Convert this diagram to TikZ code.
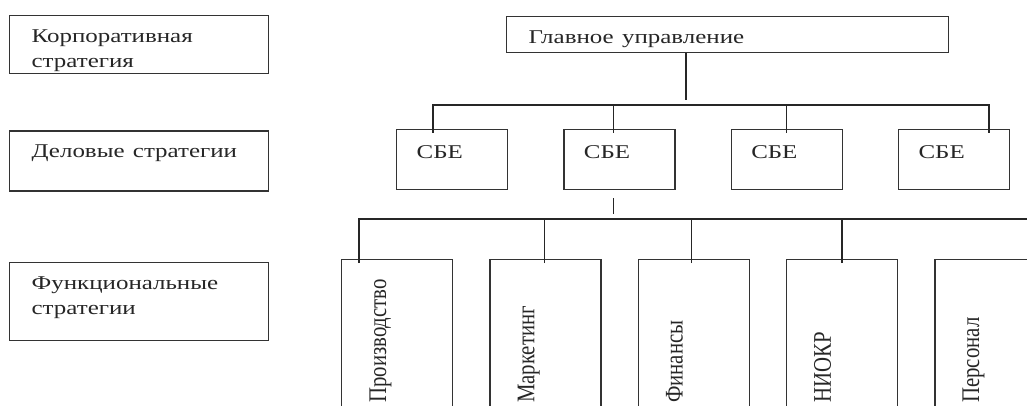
\documentclass[tikz,border=0pt]{standalone}
\usepackage{fontspec}
\setmainfont{Liberation Serif}
\usetikzlibrary{positioning,calc}
\newcommand\xwide[1]{\scalebox{1.28}[1]{#1}}
\newcommand\ywide[1]{\scalebox{1}[1.22]{#1}}
\tikzset{
  lvlbox/.style={draw=black!80, line width=1.3pt, anchor=north west, align=left, text width=215pt, inner xsep=22pt, inner ysep=0pt, text height=27pt, font=\fontsize{19.5}{25}\selectfont, text=black!85},
  headbox/.style={lvlbox, text width=398pt, text depth=9pt},
  sbebox/.style={lvlbox, text width=71pt, inner xsep=20pt, text height=29pt, text depth=31pt},
  funcbox/.style={draw=black!80, line width=1.3pt, minimum width=111pt, minimum height=170pt, inner sep=0pt},
  vtext/.style={rotate=90, anchor=base west, inner sep=0pt, font=\fontsize{20.8}{25}\selectfont, text=black!85},
  link/.style={line width=1.3pt, draw=black!85}
}
\begin{document}
\begin{tikzpicture}[x=1pt, y=-1pt]
  \useasboundingbox (0,0) rectangle (1027,406);
  \clip (0,0) rectangle (1027,406);
  % levels on the left
  \node[lvlbox, text depth=31pt] (corp) at (9,15) {\xwide{Корпоративная}\\\xwide{стратегия}};
  \node[lvlbox, text depth=33pt, below=56pt of corp.south west, anchor=north west] (busn) {\xwide{Деловые стратегии}};
  \node[lvlbox, text depth=51pt, below=70pt of busn.south west, anchor=north west] (func) {\xwide{Функциональные}\\\xwide{стратегии}};
  % head office
  \node[headbox] (head) at (506,16) {\xwide{Главное управление}};
  % business units
  \node[sbebox] (sbe1) at (396,129) {\xwide{СБЕ}};
  \node[sbebox, right=55pt of sbe1] (sbe2) {\xwide{СБЕ}};
  \node[sbebox, right=55pt of sbe2] (sbe3) {\xwide{СБЕ}};
  \node[sbebox, right=55pt of sbe3] (sbe4) {\xwide{СБЕ}};
  % functions
  \node[funcbox, anchor=north west] (prod) at (341,259) {};
  \node[funcbox, right=36pt of prod] (mark) {};
  \node[funcbox, right=36pt of mark] (fin) {};
  \node[funcbox, right=36pt of fin] (rnd) {};
  \node[funcbox, right=36pt of rnd] (staff) {};
  \node[vtext] (prod-t) at ($(prod.north west)+(45,144)$) {\ywide{Производство}};
  \node[vtext] (mark-t) at ($(mark.north west)+(45,144)$) {\ywide{Маркетинг}};
  \node[vtext] (fin-t) at ($(fin.north west)+(45,144)$) {\ywide{Финансы}};
  \node[vtext] (rnd-t) at ($(rnd.north west)+(45,144)$) {\ywide{НИОКР}};
  \node[vtext] (staff-t) at ($(staff.north west)+(45,144)$) {\ywide{Персонал}};
  % tree lines
  \coordinate (stem) at ($(head.south west)+(180,0)$);
  \coordinate (stem-end) at ($(stem)+(0,47)$);
  \coordinate (d1) at ($(sbe1.north west)+(37,4)$);
  \coordinate (d2) at ($(sbe2.north west)+(50,4)$);
  \coordinate (d3) at ($(sbe3.north west)+(56,4)$);
  \coordinate (d4) at ($(sbe4.north west)+(91,4)$);
  \coordinate (bus1) at ($(d1)+(0,-28)$);
  \coordinate (tick) at ($(sbe2.south west)+(50,8)$);
  \coordinate (tick-end) at ($(tick)+(0,16)$);
  \coordinate (f1) at ($(prod.north west)+(18,4)$);
  \coordinate (f2) at ($(mark.north west)+(55,4)$);
  \coordinate (f3) at ($(fin.north west)+(54,4)$);
  \coordinate (f4) at ($(rnd.north west)+(56,4)$);
  \coordinate (f5) at ($(staff.north west)+(93,4)$);
  \coordinate (bus2) at ($(f1)+(0,-44)$);
  \draw[link] (stem) -- (stem-end);
  \draw[link] (d1) -- (bus1) -| (d4);
  \draw[link] (d2) -- (d2 |- bus1);
  \draw[link] (d3) -- (d3 |- bus1);
  \draw[link] (tick) -- (tick-end);
  \draw[link] (f1) -- (bus2) -| (f5);
  \draw[link] (f2) -- (f2 |- bus2);
  \draw[link] (f3) -- (f3 |- bus2);
  \draw[link] (f4) -- (f4 |- bus2);
\end{tikzpicture}
\end{document}
